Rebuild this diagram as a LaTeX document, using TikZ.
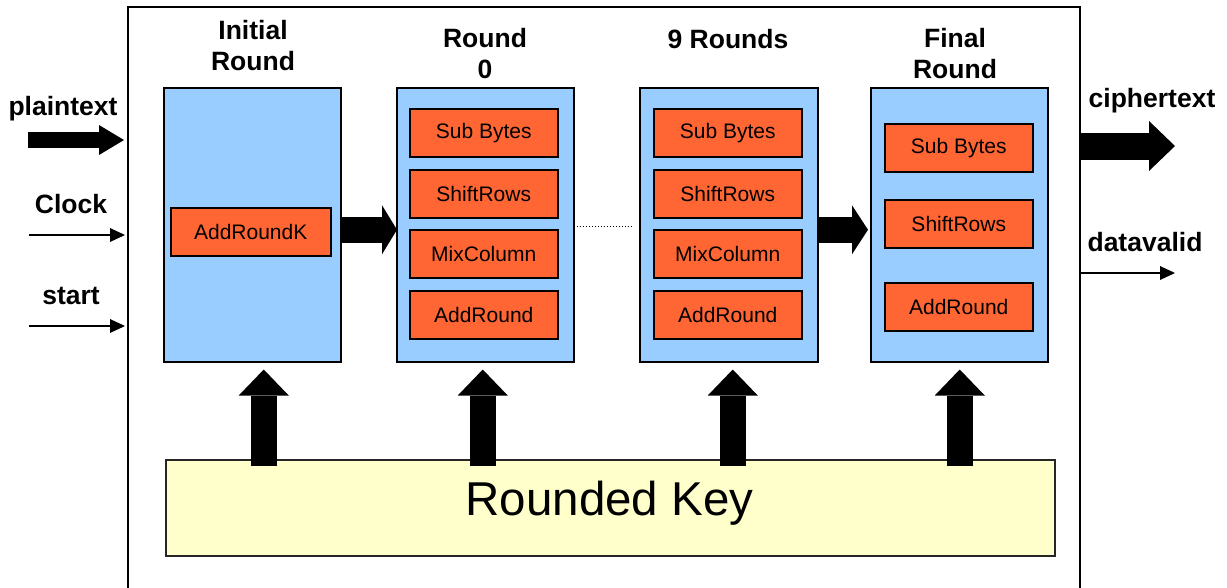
\documentclass[tikz,border=0pt]{standalone}
\usepackage{fontspec}
\setmainfont{Liberation Sans}
\usetikzlibrary{arrows.meta,calc}

\definecolor{roundblue}{HTML}{99CCFF}
\definecolor{oporange}{HTML}{FF6633}
\definecolor{keyyellow}{HTML}{FFFFCC}

\begin{document}
\begin{tikzpicture}[x=1pt,y=-1pt,
  chipbox/.style={draw=black, line width=1.5pt, minimum width=952pt, minimum height=600pt,
    anchor=north west, inner sep=0pt},
  roundbox/.style={draw=black, line width=1.5pt, fill=roundblue, minimum width=177pt,
    minimum height=274pt, anchor=north west, inner sep=0pt},
  opbox/.style={draw=black, line width=1.5pt, fill=oporange, minimum width=148pt,
    minimum height=48pt, anchor=north west, inner sep=0pt, font=\fontsize{21}{25}\selectfont},
  keybox/.style={draw=black!85, line width=1.5pt, fill=keyyellow, minimum width=889pt,
    minimum height=96pt, anchor=north west, inner sep=0pt},
  title/.style={font=\bfseries\fontsize{26.5}{31}\selectfont, align=center, inner sep=0pt},
  portlabel/.style={font=\bfseries\fontsize{26.5}{31}\selectfont, anchor=base, inner sep=0pt},
  busarrow/.style n args={3}{line width=#1, -{Triangle[length=#2, width=#3, line width=0pt]}},
  wire/.style={line width=1.2pt, -{Triangle[length=15pt, width=14pt, line width=0pt]}},
  dotlink/.style={line width=1.4pt, dash pattern=on 1.2pt off 1.8pt}
]
\useasboundingbox (0,0) rectangle (1227,587);
\clip (0,0) rectangle (1227,587);

% enclosing core
\node[chipbox] (chip) at (127,6) {};

% round stages
\node[roundbox] (init)  at (163,87) {};
\node[roundbox] (r0)    at (396,87) {};
\node[roundbox, minimum width=178pt] (nine) at (639,87) {};
\node[roundbox] (final) at (870,87) {};

% stage titles
\node[title] (tinit)  at (253,45.5) {Initial\\Round};
\node[title] (tr0)    at (485,53.5) {Round\\0};
\node[title, anchor=base] (tnine) at (728,48) {9 Rounds};
\node[title] (tfinal) at (955,53.5) {Final\\Round};

% operations
\node[opbox, minimum width=160pt] (ark) at (170,207) {AddRoundK};

\node[opbox] (r0sb) at (409,108) {Sub Bytes};
\node[opbox] (r0sr) at (409,169) {ShiftRows};
\node[opbox] (r0mc) at (409,229) {MixColumn};
\node[opbox] (r0ar) at (409,290) {AddRound};

\node[opbox] (nsb) at (653,108) {Sub Bytes};
\node[opbox] (nsr) at (653,169) {ShiftRows};
\node[opbox] (nmc) at (653,229) {MixColumn};
\node[opbox] (nar) at (653,290) {AddRound};

\node[opbox] (fsb) at (884,123) {Sub Bytes};
\node[opbox] (fsr) at (884,199) {ShiftRows};
\node[opbox] (far) at (884,282) {AddRound};

% key schedule
\node[keybox] (key) at (165,459) {};
\node[font=\fontsize{47.5}{55}\selectfont, inner sep=0pt] (keytext) at (609.5,503.5) {Rounded Key};

% data path between stages
\draw[busarrow={26pt}{15pt}{49pt}] ($(init.east)+(0,5)$) -- ($(r0.west)+(1,5)$);
\draw[dotlink] ($(r0.east)+(2,2)$) -- ($(nine.west)+(-7,2)$);
\draw[busarrow={26pt}{16pt}{49pt}] ($(nine.east)+(0,5)$) -- ($(final.west)+(-2,5)$);

% round keys feeding each stage
\foreach \r/\dx in {init/11.5, r0/-2.5, nine/4, final/0.5}
  \draw[busarrow={26pt}{26pt}{50pt}]
    ($(\r.south |- key.north)+(\dx,7)$) -- ($(\r.south)+(\dx,7)$);

% inputs
\coordinate (ptin) at (28,140);
\coordinate (clkin) at (29,235);
\coordinate (stin) at (29,326);
\draw[busarrow={16pt}{25pt}{30pt}] (ptin) -- ([xshift=-3pt]chip.west |- ptin);
\draw[wire] (clkin) -- ([xshift=-2pt]chip.west |- clkin);
\draw[wire] (stin) -- ([xshift=-2pt]chip.west |- stin);
\node[portlabel] (lpt)  at (63,115) {plaintext};
\node[portlabel] (lclk) at (71,213) {Clock};
\node[portlabel] (lst)  at (71,304) {start};

% outputs
\coordinate (ctout) at (1175,146);
\coordinate (dvout) at (1175,273);
\draw[busarrow={27pt}{26pt}{50pt}] (chip.east |- ctout) -- (ctout);
\draw[wire] (chip.east |- dvout) -- (dvout);
\node[portlabel] (lct) at (1152,107) {ciphertext};
\node[portlabel] (ldv) at (1145,251) {datavalid};
\end{tikzpicture}
\end{document}
